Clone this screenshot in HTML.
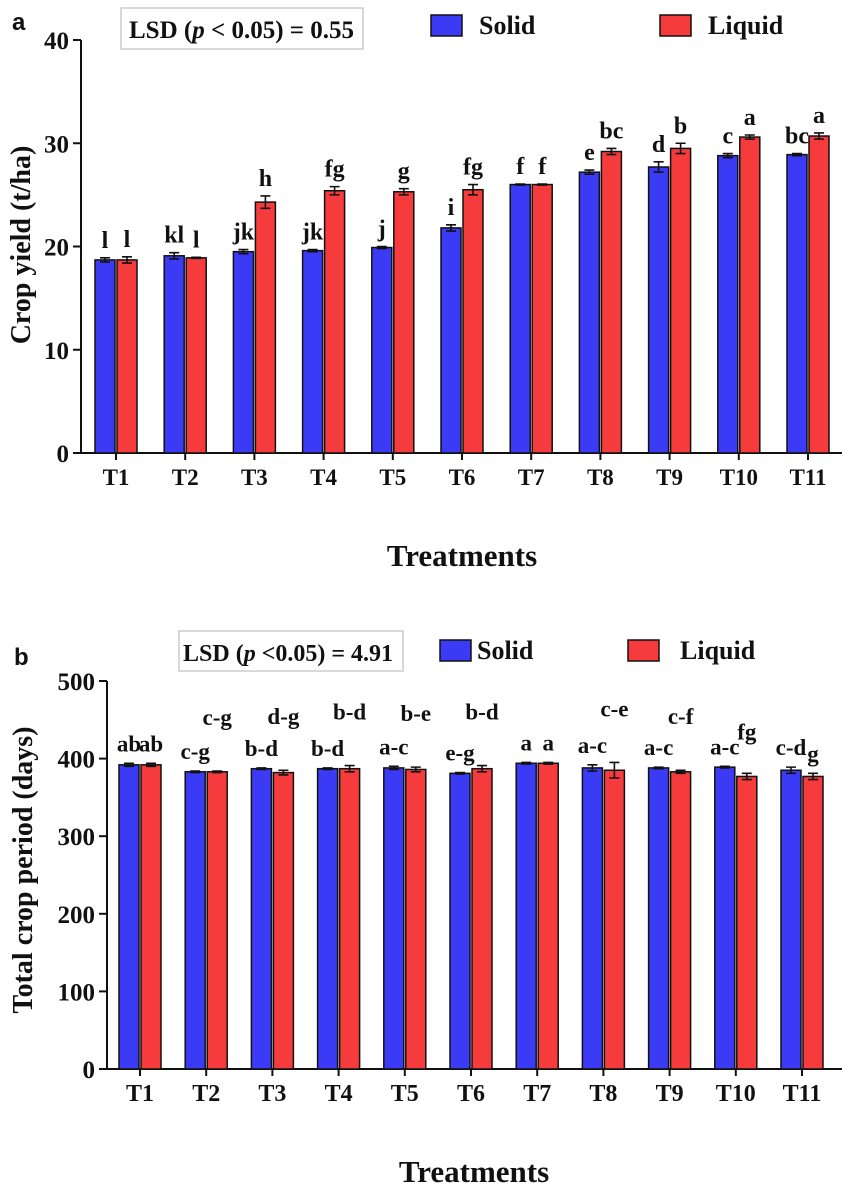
<!DOCTYPE html>
<html><head><meta charset="utf-8">
<style>
body{margin:0;background:#fff;}
svg text{font-family:"Liberation Serif",serif;font-weight:bold;fill:#111;}
</style></head>
<body>
<svg id="chart" width="851" height="1195" xmlns="http://www.w3.org/2000/svg"></svg>
<script>
const categories=["T1","T2","T3","T4","T5","T6","T7","T8","T9","T10","T11"];
const yieldSolid=[18.7,19.1,19.5,19.6,19.9,21.8,26.0,27.2,27.7,28.8,28.9];
const yieldLiquid=[18.7,18.9,24.3,25.4,25.3,25.5,26.0,29.2,29.5,30.6,30.7];
const yieldSolidErr=[0.2,0.3,0.2,0.1,0.1,0.3,0.05,0.2,0.5,0.2,0.1];
const yieldLiquidErr=[0.3,0.05,0.6,0.4,0.3,0.5,0.05,0.3,0.5,0.2,0.3];
const yieldSolidLetters=["l","kl","jk","jk","j","i","f","e","d","c","bc"];
const yieldLiquidLetters=["l","l","h","fg","g","fg","f","bc","b","a","a"];
const yieldTicks=[0,10,20,30,40];
const periodSolid=[392,383,387,387,388,381,394,388,388,389,385];
const periodLiquid=[392,383,382,387,386,387,394,385,383,377,377];
const periodSolidErr=[2,1,1,1,2,1,1,4,1,1,4];
const periodLiquidErr=[2,1,3,4,3,4,1,10,2,4,4];
const periodSolidLetters=["ab","c-g","b-d","b-d","a-c","e-g","a","a-c","a-c","a-c","c-d"];
const periodLiquidLetters=["ab","c-g","d-g","b-d","b-e","b-d","a","c-e","c-f","fg","g"];
const periodTicks=[0,100,200,300,400,500];

const svg=document.getElementById('chart');
const NS="http://www.w3.org/2000/svg";
function mk(tag,attrs,parent){const e=document.createElementNS(NS,tag);for(const k in attrs)e.setAttribute(k,attrs[k]);(parent||svg).appendChild(e);return e;}

function panel(o){
  const g=mk('g',{});
  
  
  const y=v=>o.y0-(v-o.vmin)/(o.vmax-o.vmin)*(o.y0-o.y1);
  const cx=i=>o.c0+i*o.step;
  const ax=mk('line',{x1:o.ax,y1:o.y1,x2:o.ax,y2:o.y0,stroke:'#111','stroke-width':2},g);
  
  
  const xx=mk('line',{x1:o.ax,y1:o.y0,x2:o.xend,y2:o.y0,stroke:'#111','stroke-width':2},g);
  
  
  o.ticks.forEach(t=>{
    mk('line',{x1:o.ax-8,y1:y(t),x2:o.ax,y2:y(t),stroke:'#111','stroke-width':2},g);
    const tl=mk('text',{x:o.ax-12,y:y(t)+9,'text-anchor':'end','font-size':o.tickFs},g);
    tl.textContent=t;
    
    
  });
  const bw=o.bw;
  categories.forEach((c,i)=>{
    const x=cx(i);
    mk('line',{x1:x,y1:o.y0,x2:x,y2:o.y0+7,stroke:'#111','stroke-width':2},g);
    const cl=mk('text',{x:x,y:o.y0+32,'text-anchor':'middle','font-size':o.catFs},g);
    cl.textContent=c;
    
    
    [[o.s,o.se,o.sl,'#3b3bf5',-1],[o.l,o.le,o.ll,'#f53b3b',1]].forEach(([vals,errs,lets,col,side],k)=>{
      const bx=side<0?x-1-bw:x+1;
      const top=y(vals[i]);
      const r=mk('rect',{x:bx,y:top,width:bw,height:o.y0-top,fill:col,stroke:'#111','stroke-width':1.5},g);
      
      
      const mx=bx+bw/2,et=y(vals[i]+errs[i]),eb=y(vals[i]-errs[i]);
      const e=mk('path',{d:`M${mx-5},${et}H${mx+5}M${mx},${et}V${eb}M${mx-5},${eb}H${mx+5}`,stroke:'#111','stroke-width':1.6,fill:'none'},g);
      
      
      const lt=mk('text',{x:mx,y:et-o.letterGap(i,k),'text-anchor':'middle','font-size':o.letFs},g);
      lt.textContent=lets[i];
      
      
    });
  });
  return g;
}

panel({name:'panel-a-crop-yield',ax:81,y0:453,y1:40,vmin:0,vmax:40,xend:842,c0:116,step:69.2,bw:20,
  s:yieldSolid,l:yieldLiquid,se:yieldSolidErr,le:yieldLiquidErr,sl:yieldSolidLetters,ll:yieldLiquidLetters,
  ticks:yieldTicks,tickFs:25,catFs:23,letFs:24,letterGap:()=>10});
const highLiquid=[1,2,3,4,5,7,8];
panel({name:'panel-b-crop-period',ax:107,y0:1069,y1:681,vmin:0,vmax:500,xend:842,c0:140,step:66.2,bw:20,
  s:periodSolid,l:periodLiquid,se:periodSolidErr,le:periodLiquidErr,sl:periodSolidLetters,ll:periodLiquidLetters,
  ticks:periodTicks,tickFs:25,catFs:24,letFs:23,
  letterGap:(i,k)=>{if(k===1&&highLiquid.includes(i))return 46; if(k===1&&i===9)return 34; return 12;}});

function txt(s,attrs,name){const t=mk('text',attrs);t.textContent=s;return t;}
txt('a',{x:12,y:30,'font-size':24,style:'font-family:"Liberation Sans",sans-serif'},'panel-label-a');
txt('b',{x:14,y:665,'font-size':24,style:'font-family:"Liberation Sans",sans-serif'},'panel-label-b');
let r=mk('rect',{x:121,y:8,width:242,height:41,fill:'#fff',stroke:'#ccc','stroke-width':1.5});

let t=txt('',{x:129,y:38,'font-size':25},'lsd-text-a');t.innerHTML='LSD (<tspan font-style="italic">p</tspan> &lt; 0.05) = 0.55';
r=mk('rect',{x:179,y:631,width:224,height:40,fill:'#fff',stroke:'#ccc','stroke-width':1.5});

t=txt('',{x:183,y:661,'font-size':24},'lsd-text-b');t.innerHTML='LSD (<tspan font-style="italic">p</tspan> &lt;0.05) = 4.91';
function leg(x,y,col,label,tx,name){const g=mk('g',{});
 mk('rect',{x:x,y:y,width:31,height:21,fill:col,stroke:'#111','stroke-width':1.5},g);
 const tt=mk('text',{x:tx,y:y+19,'font-size':26},g);tt.textContent=label;}
leg(431,15,'#3b3bf5','Solid',479,'legend-solid-a');
leg(660,15,'#f53b3b','Liquid',708,'legend-liquid-a');
leg(440,640,'#3b3bf5','Solid',477,'legend-solid-b');
leg(628,640,'#f53b3b','Liquid',680,'legend-liquid-b');
txt('Crop yield (t/ha)',{x:0,y:0,'font-size':28,'text-anchor':'middle',transform:'translate(30,245) rotate(-90)'},'y-axis-title-a');
txt('Total crop period (days)',{x:0,y:0,'font-size':28,'text-anchor':'middle',transform:'translate(32,870) rotate(-90)'},'y-axis-title-b');
txt('Treatments',{x:462,y:566,'font-size':31,'text-anchor':'middle'},'x-axis-title-a');
txt('Treatments',{x:474,y:1182,'font-size':31,'text-anchor':'middle'},'x-axis-title-b');
</script>
</body></html>
